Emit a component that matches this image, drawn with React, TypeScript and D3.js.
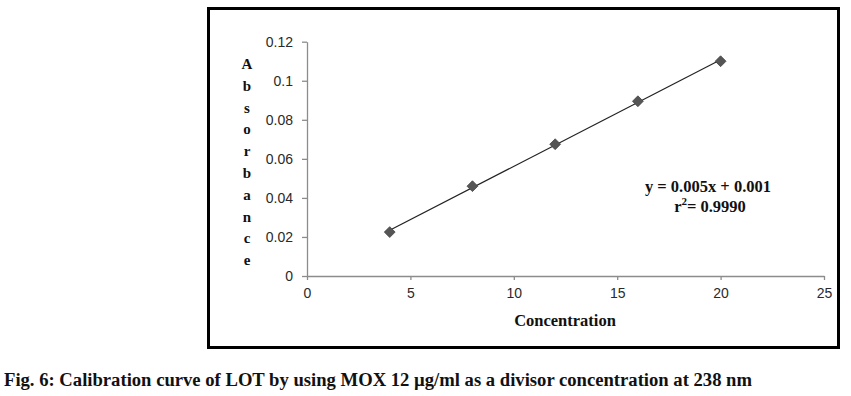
import React, { useEffect, useRef } from "react";
import * as d3 from "d3";

// calibration data
const concentration = [4, 8, 12, 16, 20];
const absorbance = [0.0225, 0.046, 0.0675, 0.0895, 0.11];
const xTicks = [0, 5, 10, 15, 20, 25];
const yTicks = [0, 0.02, 0.04, 0.06, 0.08, 0.1, 0.12];
const yLabelLetters = ["A", "b", "s", "o", "r", "b", "a", "n", "c", "e"];
const equationText = "y = 0.005x + 0.001";
const caption = "Fig. 6: Calibration curve of LOT by using MOX 12 µg/ml as a divisor concentration at 238 nm";

const W = 851;
const H = 396;

function App() {
  const ref = useRef<SVGSVGElement>(null);

  useEffect(() => {
    const svg = d3.select(ref.current);
    svg.selectAll("*").remove();

    const x = d3.scaleLinear().domain([0, 25]).range([307, 824]);
    const y = d3.scaleLinear().domain([0, 0.12]).range([276, 41.7]);

    // outer frame
    svg.append("rect")
      .attr("x", 208.5).attr("y", 8.5)
      .attr("width", 630).attr("height", 339)
      .attr("fill", "none").attr("stroke", "#000").attr("stroke-width", 3);

    const tickFont = "Liberation Sans, Arial, sans-serif";

    const xAxis = svg.append("g")
      .attr("transform", `translate(0,${y(0)})`)
      .call(d3.axisBottom(x).tickValues(xTicks).tickSize(4).tickSizeOuter(0).tickFormat(d3.format("d")));
    const yAxis = svg.append("g")
      .attr("transform", `translate(${x(0)},0)`)
      .call(d3.axisLeft(y).tickValues(yTicks).tickSize(5).tickSizeOuter(0).tickFormat((d) => `${+d}`));

    [xAxis, yAxis].forEach((g) => {
      g.select(".domain").attr("stroke", "#8c8c8c").attr("stroke-width", 1.3);
      g.selectAll(".tick line").attr("stroke", "#8c8c8c").attr("stroke-width", 1.3);
      g.selectAll(".tick text")
        .attr("fill", "#2a2a2a")
        .attr("font-family", tickFont)
        .attr("font-size", 14);
    });
    xAxis.selectAll(".tick text").attr("dy", "1.1em");
    yAxis.selectAll(".tick text").attr("x", -14);

    // linear regression for the trend line
    const n = concentration.length;
    const mx = d3.mean(concentration)!;
    const my = d3.mean(absorbance)!;
    let sxy = 0, sxx = 0;
    for (let i = 0; i < n; i++) {
      sxy += (concentration[i] - mx) * (absorbance[i] - my);
      sxx += (concentration[i] - mx) ** 2;
    }
    const slope = sxy / sxx;
    const icpt = my - slope * mx;
    const [x0, x1] = d3.extent(concentration) as [number, number];

    svg.append("line")
      .attr("x1", x(x0)).attr("y1", y(icpt + slope * x0))
      .attr("x2", x(x1)).attr("y2", y(icpt + slope * x1))
      .attr("stroke", "#222").attr("stroke-width", 1.2);

    const diamond = d3.symbol().type(d3.symbolDiamond2).size(75);
    svg.selectAll(".pt")
      .data(concentration)
      .enter()
      .append("path")
      .attr("class", "pt")
      .attr("d", diamond)
      .attr("transform", (d, i) => `translate(${x(d)},${y(absorbance[i])})`)
      .attr("fill", "#555")
      .attr("stroke", "#444")
      .attr("stroke-width", 0.8);

    const serif = "Liberation Serif, Times New Roman, serif";

    // stacked y label
    svg.append("g").selectAll("text")
      .data(yLabelLetters)
      .enter()
      .append("text")
      .attr("x", 247)
      .attr("y", (d, i) => 69 + i * 21.8)
      .attr("text-anchor", "middle")
      .attr("font-family", serif)
      .attr("font-weight", "bold")
      .attr("font-size", 15)
      .attr("fill", "#111")
      .text((d) => d);

    svg.append("text")
      .attr("x", 565).attr("y", 326)
      .attr("text-anchor", "middle")
      .attr("font-family", serif).attr("font-weight", "bold").attr("font-size", 16.5)
      .attr("fill", "#111")
      .text("Concentration");

    svg.append("text")
      .attr("x", 708).attr("y", 192)
      .attr("text-anchor", "middle")
      .attr("font-family", serif).attr("font-weight", "bold").attr("font-size", 16.5)
      .attr("fill", "#111")
      .text(equationText);

    const r2 = svg.append("text")
      .attr("x", 710).attr("y", 212)
      .attr("text-anchor", "middle")
      .attr("font-family", serif).attr("font-weight", "bold").attr("font-size", 16.5)
      .attr("fill", "#111");
    r2.append("tspan").text("r");
    r2.append("tspan").attr("dy", -7).attr("font-size", 11).text("2");
    r2.append("tspan").attr("dy", 7).text("= 0.9990");

    svg.append("text")
      .attr("x", 4).attr("y", 386)
      .attr("font-family", serif).attr("font-weight", "bold").attr("font-size", 18)
      .attr("textLength", 748).attr("lengthAdjust", "spacingAndGlyphs")
      .attr("fill", "#111")
      .text(caption);
  }, []);

  return (
    <svg
      ref={ref}
      width={W}
      height={H}
      style={{ position: "absolute", left: 0, top: 0, background: "#fff" }}
    />
  );
}

export default App;
